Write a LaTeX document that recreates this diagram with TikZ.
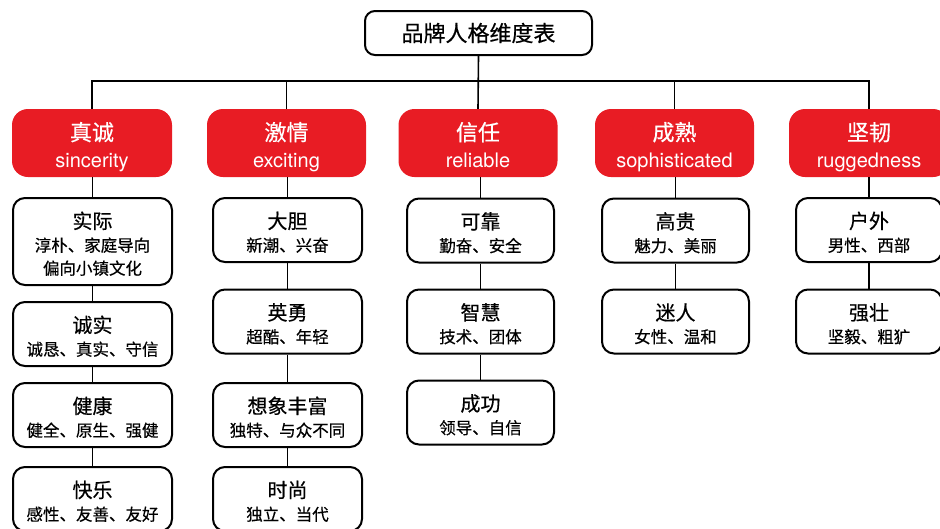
\documentclass[tikz,border=0pt]{standalone}
\usepackage{fontspec}
\setmainfont{Noto Sans CJK SC}[FakeBold=0.5]
\newfontfamily\lat{TeX Gyre Heros}
\definecolor{hdr}{RGB}{232,28,36}
\newcommand\hdtxt[2]{\parbox[c][68pt][t]{159pt}{\centering\fontsize{22}{27}\selectfont\rule{0pt}{31.5pt}#1\\{\lat\fontsize{20}{27}\selectfont #2}\par}}
\newcommand\itemtxt[3]{\parbox[c][#1pt][t]{140pt}{\centering\fontsize{16.5}{23}\selectfont\rule{0pt}{30.5pt}{\fontsize{20}{23}\selectfont #2}\\#3\par}}
\begin{document}
\begin{tikzpicture}[x=1pt,y=-1pt,
  titlebox/.style={draw,line width=2pt,rounded corners=10pt,minimum width=227pt,minimum height=44pt,inner sep=0pt,font=\fontsize{22}{26}\selectfont},
  hdrbox/.style={fill=hdr,draw=none,rounded corners=16pt,minimum width=159pt,minimum height=68pt,text=white,inner sep=0pt},
  itembox/.style={draw,line width=2pt,rounded corners=12pt,minimum height=64pt,inner sep=0pt},
  link/.style={line width=1.6pt}]
\useasboundingbox (0,0) rectangle (940,528);

\node[titlebox] (t) at (478.5,33) {品牌人格维度表};

\node[hdrbox,minimum width=160pt] (h1) at (92,143) {\hdtxt{真诚}{sincerity}};
\node[hdrbox] (h2) at (286.5,143) {\hdtxt{激情}{exciting}};
\node[hdrbox] (h3) at (478,143) {\hdtxt{信任}{reliable}};
\node[hdrbox] (h4) at (674.5,143) {\hdtxt{成熟}{sophisticated}};
\node[hdrbox,minimum width=160pt] (h5) at (869,143) {\hdtxt{坚韧}{ruggedness}};

% column 1
\node[itembox,minimum width=159pt,minimum height=87pt] (d11) at (92.5,241.5) {\itemtxt{87}{实际}{淳朴、家庭导向\\偏向小镇文化}};
\node[itembox,minimum width=159pt] (d12) at (92.5,334) {\itemtxt{64}{诚实}{诚恳、真实、守信}};
\node[itembox,minimum width=159pt] (d13) at (92.5,415) {\itemtxt{64}{健康}{健全、原生、强健}};
\node[itembox,minimum width=159pt] (d14) at (92.5,499) {\itemtxt{64}{快乐}{感性、友善、友好}};
% column 2
\node[itembox,minimum width=149pt] (d21) at (287.5,230) {\itemtxt{64}{大胆}{新潮、兴奋}};
\node[itembox,minimum width=149pt] (d22) at (287.5,321.5) {\itemtxt{64}{英勇}{超酷、年轻}};
\node[itembox,minimum width=149pt] (d23) at (287.5,415) {\itemtxt{64}{想象丰富}{独特、与众不同}};
\node[itembox,minimum width=149pt] (d24) at (287.5,499) {\itemtxt{64}{时尚}{独立、当代}};
% column 3
\node[itembox,minimum width=147pt] (d31) at (480.5,230.5) {\itemtxt{64}{可靠}{勤奋、安全}};
\node[itembox,minimum width=147pt] (d32) at (480.5,321.5) {\itemtxt{64}{智慧}{技术、团体}};
\node[itembox,minimum width=147pt] (d33) at (480.5,412.5) {\itemtxt{64}{成功}{领导、自信}};
% column 4
\node[itembox,minimum width=147pt] (d41) at (675.5,230.5) {\itemtxt{64}{高贵}{魅力、美丽}};
\node[itembox,minimum width=147pt] (d42) at (675.5,321.5) {\itemtxt{64}{迷人}{女性、温和}};
% column 5
\node[itembox,minimum width=146pt] (d51) at (869,230) {\itemtxt{64}{户外}{男性、西部}};
\node[itembox,minimum width=146pt] (d52) at (869,321.5) {\itemtxt{64}{强壮}{坚毅、粗犷}};

% connectors
\coordinate (bus) at (478,81);
\draw[link] (t.south) -- (h3.north);
\draw[link] (h1.north) |- (bus) -| (h5.north);
\draw[link] (h2.north) -- (h2.north |- bus);
\draw[link] (h4.north) -- (h4.north |- bus);

\draw[link] (h1.south -| d11.north) -- (d11.north);
\draw[link] (h2.south -| d21.north) -- (d21.north);
\draw[link] (h3.south -| d31.north) -- (d31.north);
\draw[link] (h4.south -| d41.north) -- (d41.north);
\draw[link] (h5.south -| d51.north) -- (d51.north);

\draw[link] (d11) -- (d12);
\draw[link] (d12) -- (d13);
\draw[link] (d13) -- (d14);
\draw[link] (d21) -- (d22);
\draw[link] (d22) -- (d23);
\draw[link] (d23) -- (d24);
\draw[link] (d31) -- (d32);
\draw[link] (d32) -- (d33);
\draw[link] (d41) -- (d42);
\draw[link] (d51) -- (d52);
\end{tikzpicture}
\end{document}
